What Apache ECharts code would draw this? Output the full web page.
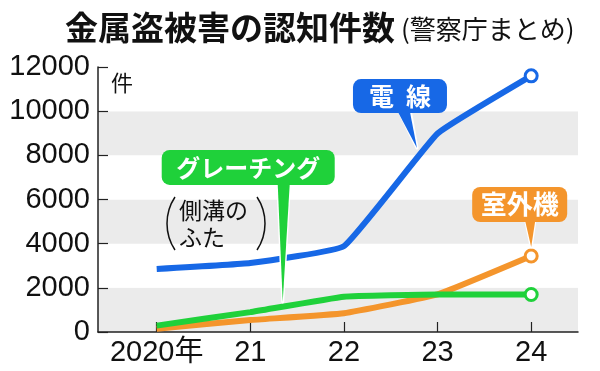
<!DOCTYPE html>
<html><head><meta charset="utf-8">
<script src="https://cdn.jsdelivr.net/npm/echarts@6/dist/echarts.min.js"></script>
<style>html,body{margin:0;padding:0;background:#fff}#c{width:600px;height:371px}</style>
</head><body><div id="c"></div>
<script>
var years = [2020, 2021, 2022, 2023, 2024];
var xLabels = ['2020年', '21', '22', '23', '24'];
var yTicks = [0, 2000, 4000, 6000, 8000, 10000, 12000];
var densen = [2850, 3120, 3890, 8990, 11600];      // 電線
var grating = [290, 900, 1600, 1700, 1700];        // グレーチング（側溝のふた）
var shitsugaiki = [150, 540, 850, 1700, 3440];     // 室外機
var seriesNames = ['電線', 'グレーチング', '室外機'];

var BLUE = '#1768e6', GREEN = '#1fd13a', ORANGE = '#f4952c';
var JP = '"Noto Sans CJK JP", sans-serif';
var NUM = '"Liberation Sans", "Noto Sans CJK JP", sans-serif';

function pts(arr){ return arr.map(function(v,i){ return [years[i], v]; }); }
function mkSeries(name, arr, color, z){
  return {
    name: name, type: 'line', data: pts(arr), smooth: 0.1, z: z,
    lineStyle: {color: color, width: 6},
    showSymbol: true, showAllSymbol: true, symbol: 'circle',
    symbolSize: function(v, p){ return p.dataIndex === arr.length - 1 ? 12 : 0; },
    itemStyle: {color: '#fff', borderColor: color, borderWidth: 3},
    emphasis: {disabled: true}, animation: false
  };
}

var chart = echarts.init(document.getElementById('c'), null, {renderer: 'canvas'});
chart.setOption({
  animation: false,
  title: {
    left: 60, top: 6,
    text: '{a|金属盗被害の認知件数}{b|(警察庁まとめ)}',
    textStyle: {
      fontWeight: 'normal',
      rich: {
        a: {fontFamily: JP, fontSize: 33, fontWeight: 'bold', color: '#111'},
        b: {fontFamily: JP, fontSize: 26, fontWeight: 'normal', color: '#111', padding: [4,0,0,6]}
      }
    }
  },
  grid: {left: 98, right: 22, top: 67, bottom: 39, containLabel: false},
  xAxis: {
    type: 'value', min: 2019.373, max: 2024.5,
    axisLine: {lineStyle: {color: '#222', width: 1.5}},
    axisTick: {show: true, inside: true, length: 10, customValues: years, lineStyle: {color: '#222', width: 1.2}},
    axisLabel: {
      customValues: years, margin: 6,
      fontFamily: NUM, fontSize: 29, color: '#111',
      formatter: function(v){ var i = years.indexOf(v); return i >= 0 ? xLabels[i] : ''; }
    },
    splitLine: {show: false}
  },
  yAxis: {
    type: 'value', min: 0, max: 12000, interval: 2000,
    axisLine: {show: true, lineStyle: {color: '#222', width: 1.5}},
    axisTick: {show: true, inside: true, length: 10, lineStyle: {color: '#222', width: 1.2}},
    axisLabel: {margin: 8, fontFamily: NUM, fontSize: 29, color: '#111',
      formatter: function(v){ return String(v); }},
    splitLine: {show: false},
    splitArea: {show: true, areaStyle: {color: ['#ebebeb', '#ffffff']}}
  },
  series: [
    mkSeries(seriesNames[2], shitsugaiki, ORANGE, 2),
    mkSeries(seriesNames[1], grating, GREEN, 3),
    mkSeries(seriesNames[0], densen, BLUE, 4)
  ]
});

function px(x, y){ return chart.convertToPixel({gridIndex: 0}, [x, y]); }

function callout(tip, box, base, color, textOpt, z){
  var tx = tip[0], ty = tip[1];
  var els = [];
  els.push({
    type: 'polygon', z: z, silent: true,
    shape: {points: [[tx + base[0], ty + box[3] - 4], [tx + base[1], ty + box[3] - 4], [tx, ty]]},
    style: {fill: color, stroke: '#fff', lineWidth: 3, lineJoin: 'round'}
  });
  els.push({
    type: 'rect', z: z + 1, silent: true,
    shape: {x: tx + box[0], y: ty + box[1], width: box[2] - box[0], height: box[3] - box[1], r: 8},
    style: {fill: color}
  });
  els.push({
    type: 'polygon', z: z + 1, silent: true,
    shape: {points: [[tx + base[0], ty + box[3] - 1], [tx + base[1], ty + box[3] - 1], [tx, ty]]},
    style: {fill: color}
  });
  var t = Object.assign({
    type: 'text', z: z + 2, silent: true,
    x: tx + (box[0] + box[2]) / 2, y: ty + (box[1] + box[3]) / 2
  }, textOpt);
  els.push(t);
  return els;
}

var tipBlue = px(2022.78, 8330);
var tipGreen = px(2021.346, 1360);
var tipOrange = px(2024, 3850);

var g = [];
g = g.concat(callout(tipBlue, [-64, -69, 30, -35], [-19, -7], BLUE, {
  style: {text: '電{sp|}線', fill: '#fff', font: 'bold 25px ' + JP, align: 'center', verticalAlign: 'middle',
    rich: {sp: {width: 12}}}
}, 20));
g = g.concat(callout(tipGreen, [-121, -152, 52, -117], [-5, 7], GREEN, {
  style: {text: 'グレーチング', fill: '#fff', font: 'bold 24px ' + JP, align: 'center', verticalAlign: 'middle'}
}, 20));
g = g.concat(callout(tipOrange, [-59, -60, 36, -25], [-6, 4], ORANGE, {
  style: {text: '室外機', fill: '#fff', font: 'bold 26px ' + JP, align: 'center', verticalAlign: 'middle'}
}, 20));

g.push({type: 'text', x: 111, y: 72, z: 30, silent: true,
  style: {text: '件', fill: '#111', font: '22px ' + JP}});
g.push({type: 'text', x: 179, y: 197, z: 30, silent: true,
  style: {text: '側溝の\nふた', fill: '#111', font: '23px ' + JP, lineHeight: 27}});
var R = 47.9, a = 0.586;
g.push({type: 'arc', z: 30, silent: true,
  shape: {cx: 167 + R, cy: 223.5, r: R, startAngle: Math.PI - a, endAngle: Math.PI + a},
  style: {stroke: '#111', lineWidth: 1.5, fill: null}});
g.push({type: 'arc', z: 30, silent: true,
  shape: {cx: 265 - R, cy: 223.5, r: R, startAngle: -a, endAngle: a},
  style: {stroke: '#111', lineWidth: 1.5, fill: null}});

chart.setOption({graphic: g});
</script>
</body></html>
